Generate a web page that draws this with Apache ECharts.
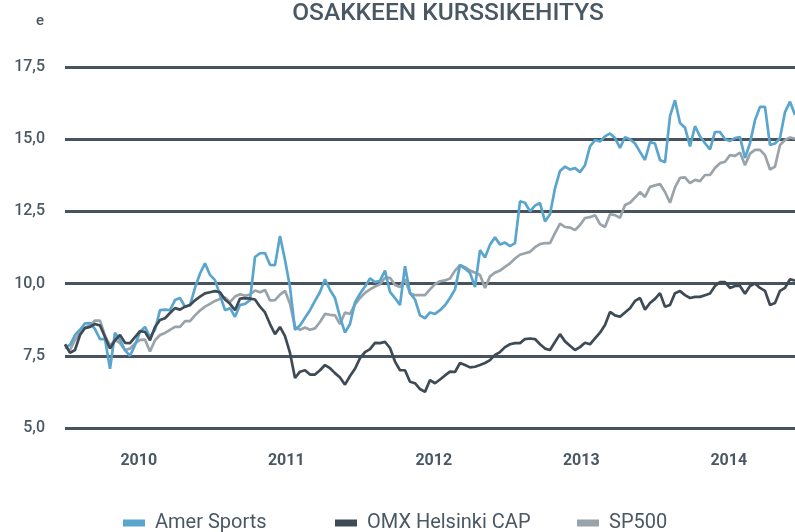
<!DOCTYPE html>
<html><head><meta charset="utf-8">
<script src="https://cdn.jsdelivr.net/npm/echarts@6/dist/echarts.min.js"></script>
<style>html,body{margin:0;padding:0;background:#fff}#c{width:795px;height:532px}</style>
</head><body><div id="c"></div>
<script>
const chartTitle = 'OSAKKEEN KURSSIKEHITYS';
const unitLabel = 'e';
const yearLabels = ['2010', '2011', '2012', '2013', '2014'];
const seriesNames = ['Amer Sports', 'OMX Helsinki CAP', 'SP500'];
const startYear = 2010;
const samplesPerYear = 29.5; // roughly bi-weekly samples from January 2010

const amerSports = [
  7.8,7.87,8.22,8.4,8.62,8.63,8.42,8.08,8.08,7.05,
  8.3,8.04,7.7,7.5,7.87,8.33,8.5,8.15,8.4,9.08,
  9.1,9.08,9.43,9.5,9.2,9.25,9.85,10.35,10.7,10.3,
  10.12,9.6,9.08,9.15,8.85,9.26,9.3,9.43,10.92,11.05,
  11.06,10.65,10.64,11.65,10.82,9.88,8.4,8.55,8.82,9.08,
  9.4,9.71,10.15,9.78,9.5,8.84,8.3,8.6,9.35,9.65,
  9.9,10.18,10.05,10.1,10.45,9.71,9.5,9.26,10.6,9.67,
  9.45,8.9,8.8,9.0,8.95,9.08,9.25,9.5,9.8,10.64,
  10.52,10.37,9.88,11.16,10.9,11.35,11.6,11.35,11.42,11.3,
  11.4,12.85,12.8,12.5,12.7,12.79,12.15,12.4,13.3,13.9,
  14.05,13.95,14.0,13.86,14.1,14.75,14.97,14.92,15.1,15.2,
  15.04,14.7,15.07,15.0,14.85,14.56,14.28,14.9,14.85,14.28,
  14.2,15.8,16.35,15.56,15.4,14.75,15.45,15.1,14.86,14.65,
  15.25,15.25,15.0,14.94,15.04,15.07,14.35,14.86,15.66,16.12,
  16.12,14.8,14.85,15.04,15.94,16.3,15.84
];
const omxHelsinkiCap = [
  7.9,7.6,7.7,8.22,8.46,8.5,8.6,8.55,8.15,7.75,
  8.04,8.22,7.95,7.94,8.15,8.35,8.33,8.04,8.5,8.74,
  8.8,8.98,9.15,9.1,9.2,9.26,9.42,9.55,9.66,9.7,
  9.74,9.7,9.45,9.3,9.08,9.48,9.5,9.48,9.45,9.2,
  9.0,8.6,8.25,8.5,8.18,7.6,6.73,6.95,7.0,6.85,
  6.85,7.0,7.18,7.07,6.9,6.75,6.5,6.8,7.05,7.42,
  7.63,7.73,7.95,7.94,7.98,7.77,7.3,7.0,7.0,6.6,
  6.55,6.35,6.25,6.66,6.55,6.68,6.82,6.95,6.94,7.25,
  7.18,7.1,7.12,7.18,7.25,7.35,7.53,7.63,7.8,7.9,
  7.94,7.94,8.08,8.1,8.08,7.9,7.75,7.7,7.98,8.25,
  8.0,7.85,7.7,7.8,7.95,7.9,8.1,8.3,8.57,9.02,
  8.9,8.85,9.0,9.15,9.4,9.5,9.1,9.33,9.47,9.67,
  9.2,9.26,9.67,9.74,9.6,9.5,9.54,9.54,9.6,9.66,
  9.92,10.05,10.05,9.85,9.92,9.92,9.65,9.92,10.0,9.85,
  9.75,9.26,9.33,9.75,9.85,10.15,10.1
];
const sp500 = [
  7.8,7.7,8.05,8.3,8.48,8.55,8.72,8.72,8.2,7.85,
  8.04,7.94,7.7,7.75,7.93,8.05,8.06,7.65,8.04,8.22,
  8.29,8.4,8.5,8.5,8.7,8.7,8.9,9.07,9.2,9.3,
  9.4,9.47,9.52,9.36,9.55,9.63,9.58,9.62,9.76,9.7,
  9.78,9.42,9.43,9.62,9.75,9.3,8.5,8.4,8.48,8.4,
  8.45,8.67,8.95,8.92,8.9,8.6,9.0,8.95,9.28,9.5,
  9.68,9.8,9.9,9.98,10.2,10.2,9.95,9.88,10.15,9.67,
  9.6,9.6,9.6,9.8,9.98,10.08,10.11,10.18,10.45,10.64,
  10.57,10.45,10.38,10.3,9.85,10.25,10.38,10.45,10.58,10.7,
  10.87,11.0,11.05,11.1,11.26,11.37,11.4,11.4,11.75,12.08,
  11.96,11.94,11.85,12.03,12.27,12.3,12.37,12.06,11.96,12.4,
  12.37,12.28,12.72,12.8,12.98,13.17,13.0,13.35,13.4,13.45,
  13.17,12.8,13.33,13.66,13.68,13.48,13.59,13.55,13.76,13.76,
  14.0,14.17,14.22,14.45,14.42,14.54,14.1,14.5,14.63,14.63,
  14.45,13.95,14.05,14.8,14.97,15.06,15.02
];
const yTicks = { min: 5, max: 17.5, step: 2.5 };

const toPairs = arr => arr.map((v, i) => [startYear + i / samplesPerYear, v]);
const xMax = startYear + (amerSports.length - 1) / samplesPerYear;

const TEXT = '#4a5864';
const colors = { 'Amer Sports': '#5aa5cd', 'OMX Helsinki CAP': '#3e4a55', 'SP500': '#9ba3aa' };
const font = 'Roboto, "Open Sans", sans-serif';

const chart = echarts.init(document.getElementById('c'), null, { renderer: 'canvas' });
const legendItem = (name, left) => ({
  data: [name], left: left, top: 511, padding: 0, icon: 'rect', itemWidth: 22, itemHeight: 7,
  selectedMode: false,
  textStyle: { color: TEXT, fontSize: 20, fontFamily: font, padding: [0, 0, 0, 5], lineHeight: 24 }
});
chart.setOption({
  animation: false,
  backgroundColor: '#fff',
  grid: { left: 65, right: 0, top: 67, bottom: 104, containLabel: false },
  graphic: [
    { type: 'text', x: 448, y: 14, style: { text: chartTitle, fill: TEXT, font: '500 24.5px ' + font, textAlign: 'center', textVerticalAlign: 'middle' } },
    { type: 'text', x: 40, y: 21, style: { text: unitLabel, fill: TEXT, font: '500 15px ' + font, textAlign: 'center', textVerticalAlign: 'middle' } }
  ],
  legend: [legendItem(seriesNames[0], 123), legendItem(seriesNames[1], 335), legendItem(seriesNames[2], 577)],
  xAxis: {
    type: 'value', min: startYear, max: xMax, interval: 0.5,
    axisLine: { show: false }, axisTick: { show: false }, splitLine: { show: false },
    axisLabel: {
      color: TEXT, fontSize: 16, fontWeight: 'bold', fontFamily: font, margin: 25,
      showMaxLabel: false,
      formatter: v => {
        const f = v - Math.floor(v);
        const y = String(Math.floor(v));
        return (Math.abs(f - 0.5) < 0.01 && yearLabels.indexOf(y) >= 0) ? y : '';
      }
    }
  },
  yAxis: {
    type: 'value', min: yTicks.min, max: yTicks.max, interval: yTicks.step,
    axisLine: { show: false }, axisTick: { show: false },
    splitLine: { show: true, lineStyle: { color: '#47535e', width: 3 } },
    axisLabel: { color: TEXT, fontSize: 16, fontFamily: font, fontWeight: 500, margin: 20,
      formatter: v => v.toFixed(1).replace('.', ',') }
  },
  series: [
    { name: 'SP500', data: toPairs(sp500), z: 2 },
    { name: 'Amer Sports', data: toPairs(amerSports), z: 3 },
    { name: 'OMX Helsinki CAP', data: toPairs(omxHelsinkiCap), z: 4 }
  ].map(s => Object.assign({
    type: 'line', showSymbol: false, symbol: 'none', smooth: false,
    lineStyle: { width: 2.7, color: colors[s.name] },
    itemStyle: { color: colors[s.name] }
  }, s))
});
</script></body></html>
